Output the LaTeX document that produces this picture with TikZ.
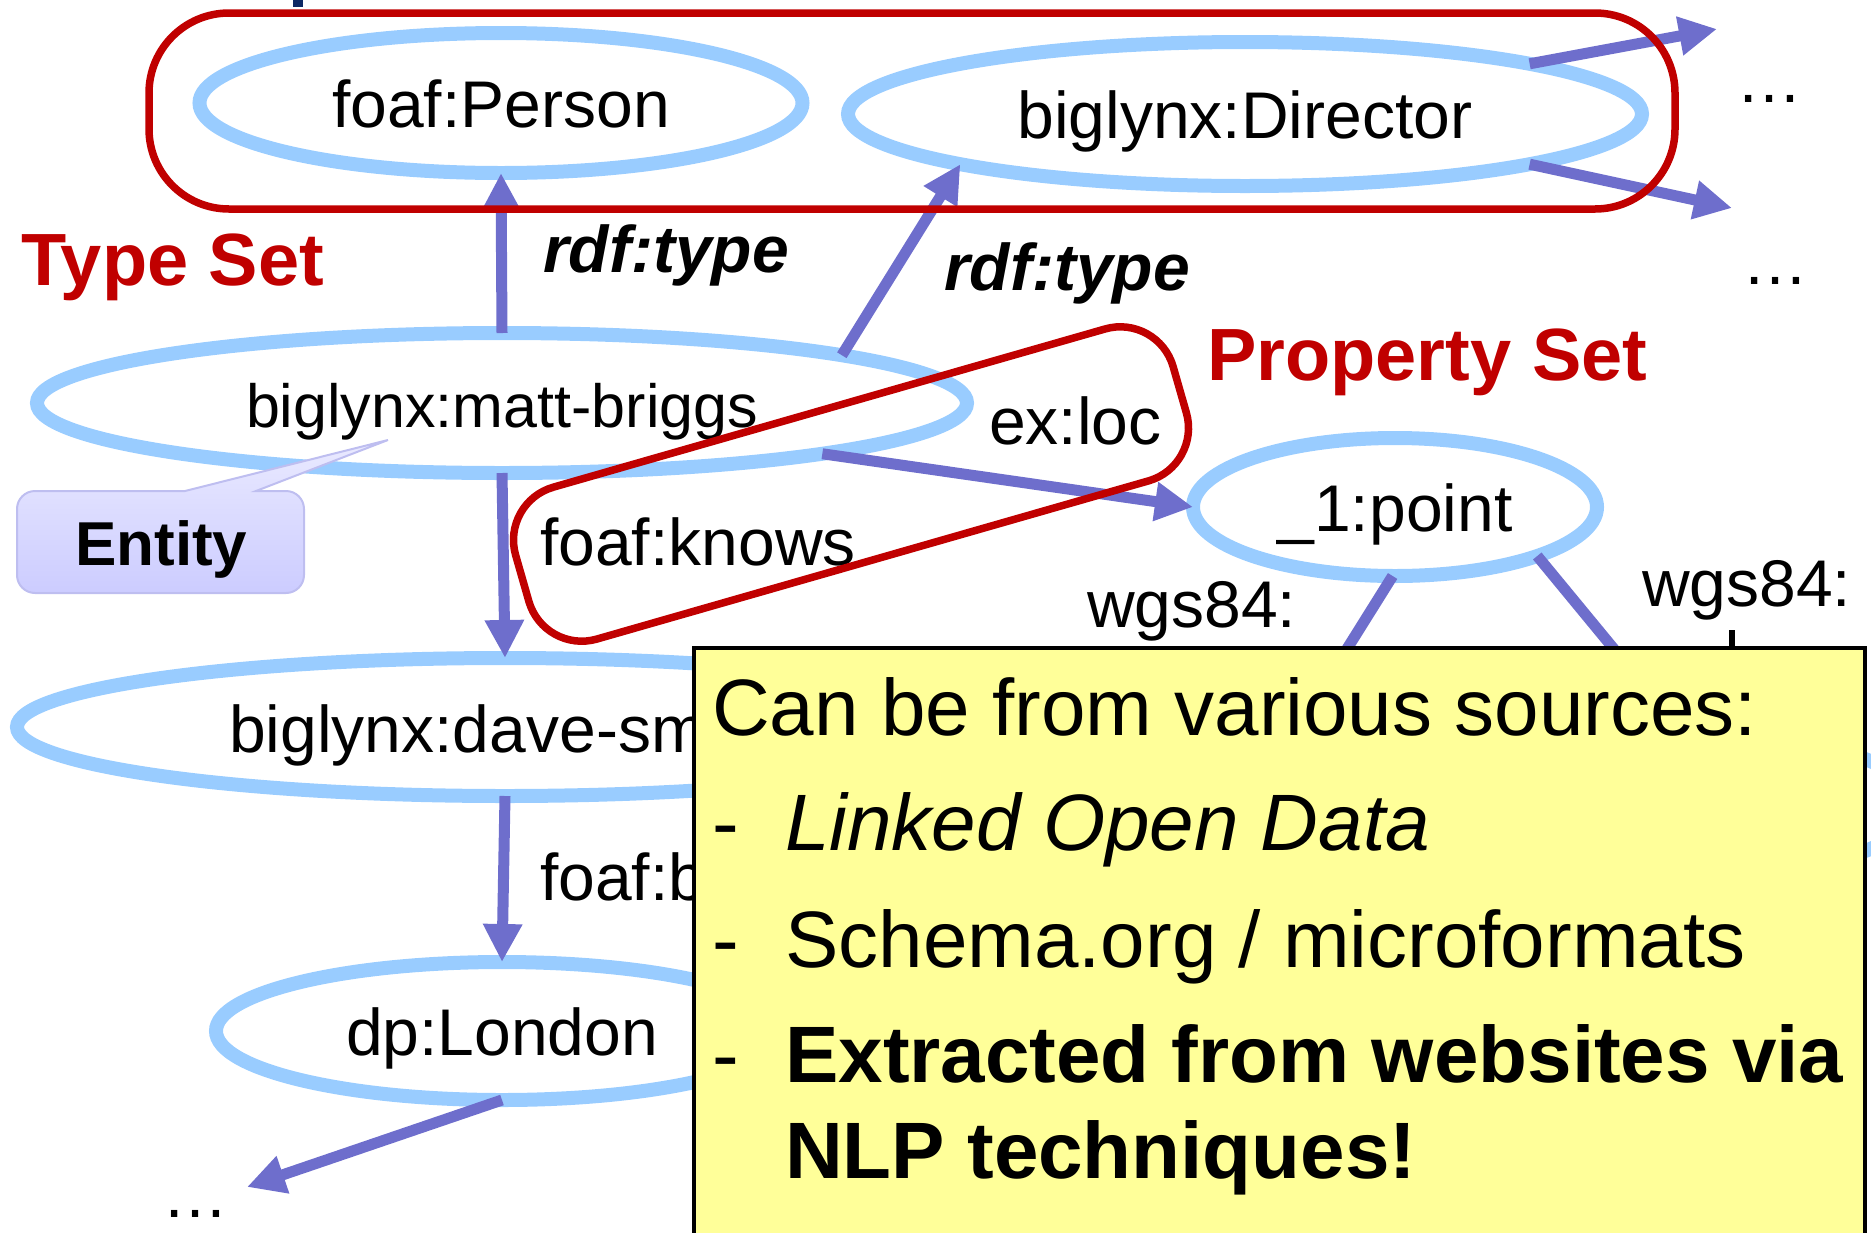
\documentclass[tikz,border=0pt]{standalone}
\usepackage{fontspec}
\setmainfont{Liberation Sans}
\usetikzlibrary{arrows.meta,shapes.geometric}

\definecolor{nodeblue}{RGB}{153,204,255}
\definecolor{linkblue}{RGB}{110,110,204}
\definecolor{setred}{RGB}{192,0,0}
\definecolor{notey}{RGB}{255,255,153}
\definecolor{calltop}{RGB}{234,234,255}
\definecolor{callbot}{RGB}{204,204,255}
\definecolor{callline}{RGB}{190,190,240}
\definecolor{navy}{RGB}{13,40,100}

\begin{document}
\begin{tikzpicture}[x=1pt,y=-1pt,
  res/.style={ellipse, draw=nodeblue, line width=14pt, inner sep=0pt, outer sep=0pt,
    text height=48pt, text depth=0pt, font=\fontsize{66}{78}\selectfont},
  link/.style={draw=linkblue, line width=11pt, -{Triangle[length=38pt,width=37pt]}},
  plainlink/.style={draw=linkblue, line width=11pt},
  lbl/.style={anchor=base west, inner sep=0pt, font=\fontsize{66}{78}\selectfont},
  rdft/.style={anchor=base west, inner sep=0pt, font=\fontsize{66}{78}\selectfont\bfseries\itshape},
  setlbl/.style={anchor=base west, inner sep=0pt, text=setred, font=\fontsize{74}{88}\selectfont\bfseries},
  setline/.style={draw=setred, line width=7.5pt},
  note/.style={anchor=base west, inner sep=0pt, font=\fontsize{80}{96}\selectfont},
  notebold/.style={note, font=\fontsize{80}{96}\selectfont\bfseries},
]
\useasboundingbox (0,0) rectangle (1871,1232);
\clip (0,0) rectangle (1871,1232);

% stroke of a heading letter above the type set
\fill[navy] (293,0) rectangle (303,7);

% resources
\node[res, minimum width=603pt, minimum height=140pt] (person) at (501,103) {foaf:Person};
\node[res, minimum width=794pt, minimum height=144pt] (director) at (1245,114) {biglynx:Director};
\node[res, minimum width=930pt, minimum height=140pt, font=\fontsize{61}{73}\selectfont] (matt) at (502,403) {biglynx:matt-briggs};
\node[res, minimum width=404pt, minimum height=138pt] (point) at (1395,507) {\_1:point};
\node[res, minimum width=976pt, minimum height=138pt] (dave) at (505,727) {};
\node[anchor=base west, inner sep=0pt, font=\fontsize{66}{78}\selectfont] (davelabel) at (229,752) {biglynx:dave-sm};
\node[res, minimum width=572pt, minimum height=138pt] (london) at (502,1031) {dp:London};
\draw[nodeblue, line width=14pt] (1716,805) ellipse [x radius=200, y radius=69];

% links
\draw[link] (matt.north) -- (person.south);
\draw[link] (matt.8.8) -- (director.190);
\draw[link] (matt.south) -- (dave.north);
\draw[link] (dave.south) -- (london.north);
\coordinate (londonout) at (247,1187);
\draw[link] (london.south) -- (londonout);
\draw[link] (matt.-9) -- (point.west);
\coordinate (dirout1) at (1717,29);
\coordinate (dirout2) at (1732,208);
\draw[link] (director.10.5) -- (dirout1);
\draw[link] (director.-10.3) -- (dirout2);
\coordinate (latend) at (1340,660);
\coordinate (longend) at (1623,660);
\draw[plainlink] (point.-92) -- (latend);
\draw[plainlink] (point.-19.3) -- (longend);

% property labels
\node[rdft] (rt1) at (543,272) {rdf:type};
\node[rdft] (rt2) at (944,290) {rdf:type};
\node[lbl] (exloc) at (989,444) {ex:loc};
\node[lbl] (knows) at (540,565) {foaf:knows};
\node[lbl] (based) at (540,900) {foaf:b};
\node[lbl] (wgsa) at (1087,627) {wgs84:};
\node[lbl] (wgsb) at (1642,606) {wgs84:};
\fill[black] (1729,630) rectangle (1735,650);
\node[lbl] (more1) at (1736,102) {…};
\node[lbl] (more2) at (1742,284) {…};
\node[lbl] (more3) at (162,1217) {…};

% entity callout
\path[draw=callline, line width=2pt, top color=calltop, bottom color=callbot]
  (185,491) -- (388,440) -- (256,491) -- (286,491)
  arc[start angle=-90, end angle=0, radius=18] -- (304,575)
  arc[start angle=0, end angle=90, radius=18] -- (35,593)
  arc[start angle=90, end angle=180, radius=18] -- (17,509)
  arc[start angle=180, end angle=270, radius=18] -- cycle;
\node[anchor=base west, inner sep=0pt, font=\fontsize{62}{74}\selectfont\bfseries] (entity) at (75,565) {Entity};

% type set and property set
\draw[setline, rounded corners=80pt] (149,13) rectangle (1675,209);
\node[setlbl] (typeset) at (21,285) {Type Set};
\node[draw=setred, line width=7.5pt, rotate=16, minimum width=684pt, minimum height=158pt,
  rounded corners=55pt, inner sep=0pt, outer sep=0pt] (propbox) at (851,484) {};
\node[setlbl] (propset) at (1207,380) {Property Set};

% note on the sources
\draw[fill=notey, draw=black, line width=4pt] (694,648) rectangle (1865,1262);
\node[note] (src) at (712,735) {Can be from various sources:};
\node[note] (dash1) at (712,850) {-};
\node[note] (lod) at (785,850) {\itshape Linked Open Data};
\node[note] (dash2) at (712,967) {-};
\node[note] (schema) at (785,967) {Schema.org / microformats};
\node[note] (dash3) at (712,1082) {-};
\node[notebold] (nlp1) at (785,1082) {Extracted from websites via};
\node[notebold] (nlp2) at (785,1178) {NLP techniques!};
\end{tikzpicture}
\end{document}
